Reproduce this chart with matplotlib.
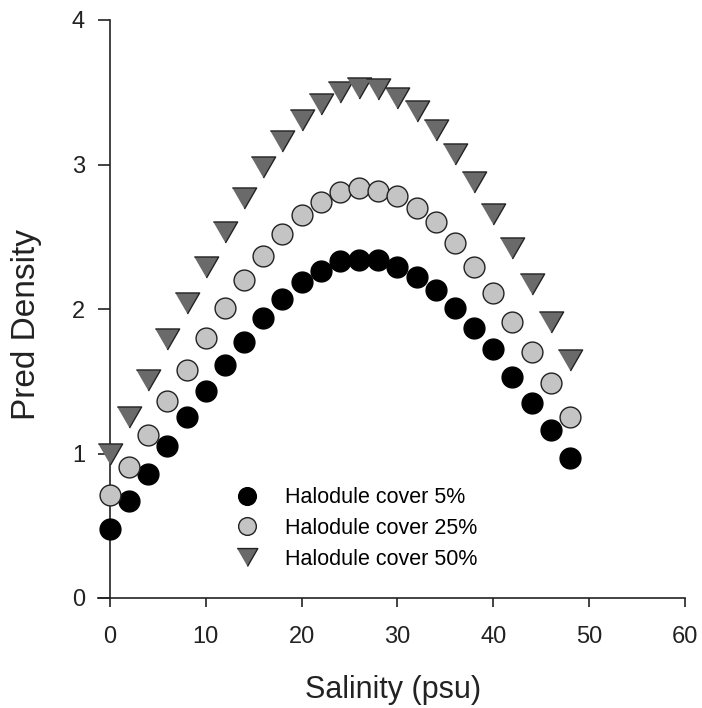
import matplotlib.pyplot as plt

plt.rcParams['font.family'] = ['Liberation Sans', 'DejaVu Sans']

# salinity (psu), same for the three series
salinidad = [0, 2, 4, 6, 8, 10, 12, 14, 16, 18, 20, 22, 24, 26, 28, 30,
             32, 34, 36, 38, 40, 42, 44, 46, 48]

cover_5 = [0.48, 0.67, 0.86, 1.05, 1.25, 1.43, 1.61, 1.77, 1.94, 2.07, 2.19, 2.26, 2.33,
           2.34, 2.34, 2.29, 2.22, 2.13, 2.01, 1.87, 1.72, 1.53, 1.35, 1.16, 0.97]
cover_25 = [0.71, 0.91, 1.13, 1.36, 1.58, 1.80, 2.01, 2.20, 2.37, 2.52, 2.65, 2.74, 2.81,
            2.84, 2.82, 2.78, 2.70, 2.60, 2.46, 2.29, 2.11, 1.91, 1.70, 1.49, 1.25]
cover_50 = [1.00, 1.25, 1.51, 1.79, 2.04, 2.29, 2.53, 2.77, 2.98, 3.16, 3.31, 3.42, 3.50,
            3.53, 3.52, 3.46, 3.37, 3.24, 3.07, 2.88, 2.66, 2.42, 2.17, 1.91, 1.65]

etiquetas = ["Halodule cover 5%", "Halodule cover 25%", "Halodule cover 50%"]

triangulo = [(-1, 0.866), (1, 0.866), (0, -0.866)]

fig = plt.figure(figsize=(7.02, 7.08), dpi=100)
ax = fig.add_axes([97.5 / 702, 110 / 708, (685 - 97.5) / 702, (598 - 20) / 708])

ax.plot(salinidad, cover_5, linestyle="none", marker="o", markersize=15,
        markerfacecolor="black", markeredgecolor="black", markeredgewidth=1, zorder=3, label=etiquetas[0])
ax.plot(salinidad, cover_25, linestyle="none", marker="o", markersize=15,
        markerfacecolor="#c4c4c4", markeredgecolor="#222222", markeredgewidth=1, zorder=3, label=etiquetas[1])
ax.plot(salinidad, cover_50, linestyle="none", marker=triangulo, markersize=17.5,
        markerfacecolor="#6a6a6a", markeredgecolor="#222222", markeredgewidth=1, zorder=3, label=etiquetas[2])

ax.set_xlim(-1.3, 60)
ax.set_ylim(0, 4)
ax.set_xticks([0, 10, 20, 30, 40, 50, 60])
ax.set_yticks([0, 1, 2, 3, 4])

ax.spines["top"].set_visible(False)
ax.spines["right"].set_visible(False)
ax.spines["left"].set_position(("data", 0))
for s in ["left", "bottom"]:
    ax.spines[s].set_linewidth(1.2)
    ax.spines[s].set_color("#222222")

ax.tick_params(axis="x", direction="out", length=6.5, width=1.2, pad=14, labelsize=17, colors="#222222")
ax.tick_params(axis="y", direction="out", length=9, width=1.2, pad=9, labelsize=17, colors="#222222")

fig.text(393 / 702, 10 / 708, "Salinity (psu)", ha="center", va="baseline", fontsize=22, color="#222222")
fig.text(27 / 702, 1 - 325 / 708, "Pred Density", ha="center", va="center", rotation=90,
         fontsize=24, color="#222222")

ax.legend(loc="upper left", bbox_to_anchor=(0.2, 0.225), frameon=False, fontsize=15.5,
          markerscale=0.85, handletextpad=1.15, labelspacing=0.45, handlelength=1.2)

fig.savefig("out.png", dpi=100)
